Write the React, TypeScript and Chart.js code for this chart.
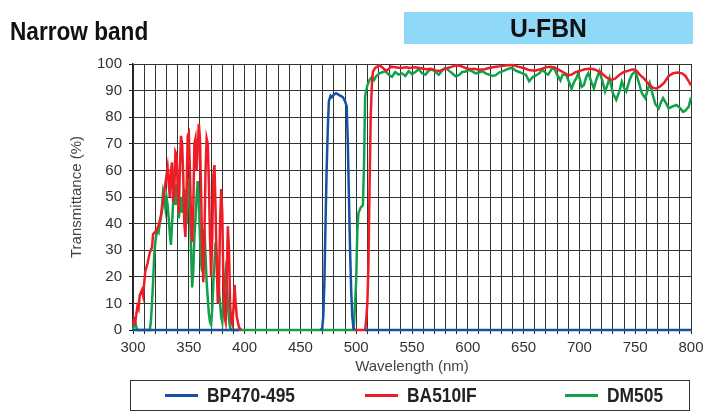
import React, { useEffect, useRef } from 'react';
import { Chart, registerables } from 'chart.js';
Chart.register(...registerables);

// ---- data ----
const xTicksStep = 10;
const yTicksStep = 10;

const bpLabel = 'BP470-495';
const baLabel = 'BA510IF';
const dmLabel = 'DM505';

const bpWl = [300, 395, 430, 468, 469.5, 470.5, 471.5, 472.5, 473.5, 474.5, 475.5, 477, 478, 480, 482, 484, 486, 488, 490, 491.5, 492.5, 493.5, 494.5, 495.5, 496.5, 497.5, 498.5, 503, 508, 800];
const bpT = [0, 0, null, 0, 0.5, 5, 18, 40, 60, 75, 86, 88, 87.5, 88.5, 89, 88.5, 88, 87.5, 86, 84, 70, 50, 30, 15, 5, 1, 0, null, 0, 0];

const baWl = [300, 301, 302, 304, 305, 306, 308, 309, 311, 313, 315, 317, 318, 320, 322, 324, 326, 328, 330, 331, 332, 333, 334, 335, 336, 337, 338, 339, 340, 341, 342, 343, 344, 345, 346, 347, 348, 349, 350, 351, 352, 353, 354, 355, 356, 357, 358, 359, 360, 361, 362, 363, 364, 365, 366, 367, 368, 369, 370, 371, 372, 373, 374, 375, 376, 377, 378, 379, 380, 381, 382, 383, 384, 385, 386, 387, 388, 389, 390, 391, 392, 393, 394, 395, 397, 450, 498, 508, 509, 510, 511, 512, 513, 514, 515, 517, 519, 521, 524, 527, 529, 531, 535, 540, 545, 548, 553, 558, 563, 567, 571, 575, 578, 582, 586, 590, 594, 598, 602, 606, 610, 615, 620, 625, 630, 635, 640, 645, 650, 655, 660, 665, 670, 674, 678, 682, 686, 690, 693, 697, 701, 705, 709, 713, 716, 720, 724, 728, 732, 736, 740, 744, 748, 751, 754, 758, 762, 766, 769, 772, 776, 780, 784, 788, 792, 795, 798, 800];
const baT = [2, 4, 3, 9, 8, 13, 15, 13, 22, 25, 29, 31, 36, 37, 38, 41, 45, 52, 58, 61, 55, 50, 60, 63, 48, 52, 67, 66, 54, 44, 60, 73, 70, 58, 40, 35, 52, 73, 74, 60, 42, 33, 45, 70, 72, 60, 68, 77.5, 72, 52, 30, 18, 35, 60, 72, 70, 55, 35, 20, 35, 58, 62, 45, 25, 10, 15, 40, 53, 44, 18, 5, 3, 20, 39, 30, 10, 3, 2, 8, 17, 10, 5, 3, 1, 0, null, 0, 0, 4, 10, 25, 55, 80, 92, 97, 98.5, 99, 99.5, 98.5, 97.5, 98, 99, 98.8, 98.5, 98.8, 98.5, 98.8, 98.4, 98, 98.2, 97.6, 97.4, 98, 98.5, 99, 99.5, 99.2, 98.5, 98, 98.2, 97.8, 98, 98.6, 99, 99.2, 99.5, 99.6, 99, 98.5, 97.7, 97.5, 98, 98.8, 99, 98.6, 97.7, 96.8, 95.8, 96, 97, 97.5, 98, 98.2, 98, 97.5, 96.5, 95, 94, 94.5, 96, 97, 97.5, 98, 97.5, 96, 94.5, 92.5, 91, 90.8, 91.5, 93, 95.5, 96.5, 96.8, 96.5, 95.5, 93.5, 92];

const dmWl = [300, 301, 302, 303, 304, 315, 316, 317, 318, 319, 320, 321, 322, 323, 324, 325, 326, 327, 328, 329, 330, 331, 332, 333, 334, 335, 336, 337, 338, 339, 340, 341, 342, 343, 344, 345, 346, 347, 348, 349, 350, 351, 352, 353, 354, 355, 356, 357, 358, 359, 360, 361, 362, 363, 364, 365, 366, 367, 368, 369, 370, 371, 372, 373, 374, 375, 376, 377, 378, 379, 380, 381, 382, 383, 384, 385, 386, 387, 388, 497, 498, 499, 500, 501, 502, 504, 506, 507, 508, 510, 512, 514, 516, 518, 521, 524, 526, 529, 532, 535, 538, 541, 544, 547, 550, 553, 556, 559, 562, 565, 568, 571, 574, 577, 580, 583, 586, 589, 592, 595, 598, 601, 604, 607, 610, 613, 616, 619, 622, 625, 628, 631, 634, 637, 640, 643, 646, 649, 652, 655, 658, 661, 664, 667, 670, 672, 675, 677, 680, 683, 685, 688, 690, 693, 695, 697, 699, 702, 704, 706, 708, 711, 713, 715, 718, 721, 723, 725, 727, 730, 733, 736, 738, 740, 742, 745, 747, 750, 753, 756, 759, 761, 763, 766, 768, 771, 773, 775, 778, 780, 783, 787, 790, 793, 795, 798, 800];
const dmT = [0, 2, 3, 1, 0, 0, 3, 10, 18, 28, 33, 36, 38, 37, 40, 42, 47, 52, 50, 46, 50, 47, 42, 36, 32, 40, 48, 52, 47, 55, 50, 42, 46, 50, 44, 50, 53, 45, 40, 52, 57, 45, 30, 16, 22, 35, 42, 50, 56, 48, 35, 25, 22, 30, 38, 28, 18, 12, 6, 3, 2, 8, 18, 25, 33, 28, 22, 15, 10, 5, 3, 10, 18, 22, 18, 10, 4, 1, 0, 0, 2, 10, 19, 37, 44, 46, 47, 62, 88, 92, 94, 95, 94, 95.5, 96.5, 97, 97.3, 96, 95.2, 97, 96, 96.5, 95.5, 97.3, 96.2, 97, 98, 96.5, 96, 97.5, 98, 97, 96, 97.5, 98.6, 97.5, 96.5, 95.4, 95.8, 97, 97.2, 97.8, 97.2, 96.5, 96.8, 97.3, 96.5, 96, 95.5, 95.8, 96.8, 97.2, 97.8, 98.3, 98.5, 97.5, 97, 96.5, 96, 93.5, 95, 95.7, 96.5, 97.8, 96.5, 96, 98, 98.7, 96, 93.8, 96, 96, 94, 90.7, 93, 94.5, 96.5, 91.4, 92, 95, 96.6, 93, 90.8, 94, 97.3, 93, 89.7, 92, 94.7, 89, 86.5, 90, 93.4, 91, 89.7, 94, 96, 97.3, 93.4, 89, 87.2, 90, 92.8, 88, 85, 83.3, 85.5, 87.2, 85, 83.3, 84, 84.6, 83.5, 82, 82.5, 84, 87.5];

const toPoints = (wl: number[], t: (number | null)[]) => wl.map((x, i) => ({ x, y: t[i] }));

const BLUE = '#1652a3';
const RED = '#ee1c25';
const GREEN = '#12a04a';
const NARROW = '"Liberation Sans", Arial, sans-serif';
const TICKFONT = '"Liberation Sans", Arial, sans-serif';

export default function App() {
  const ref = useRef<HTMLCanvasElement>(null);
  useEffect(() => {
    if (!ref.current) return;
    const chart = new Chart(ref.current, {
      type: 'line',
      data: {
        datasets: [
          { label: bpLabel, data: toPoints(bpWl, bpT), borderColor: BLUE, borderWidth: 2.5, pointRadius: 0, spanGaps: false, clip: 4 },
          { label: baLabel, data: toPoints(baWl, baT), borderColor: RED, borderWidth: 2.5, pointRadius: 0, spanGaps: false, clip: 4 },
          { label: dmLabel, data: toPoints(dmWl, dmT), borderColor: GREEN, borderWidth: 2.5, pointRadius: 0, clip: 4 },
        ] as any,
      },
      options: {
        animation: false,
        responsive: false,
        devicePixelRatio: 1,
        layout: { padding: { left: 68, top: 64, right: 24, bottom: 37 } },
        plugins: { legend: { display: false }, tooltip: { enabled: false } },
        scales: {
          x: {
            type: 'linear',
            min: 300,
            max: 800,
            afterFit: (s: any) => { s.height = 46; },
            ticks: {
              stepSize: xTicksStep,
              autoSkip: false,
              maxRotation: 0,
              padding: 5,
              color: '#333',
              font: { family: TICKFONT, size: 15 },
              callback: (v: any) => (Number(v) % 50 === 0 ? String(v) : ''),
            },
            grid: { color: '#333', lineWidth: 1, tickLength: 4, tickColor: '#222' },
            border: { color: '#222', width: 1.5 },
            title: { display: true, text: 'Wavelength (nm)', color: '#444', font: { family: TICKFONT, size: 15 }, padding: 0 },
          },
          y: {
            min: 0,
            max: 100,
            afterFit: (s: any) => { s.width = 65; },
            ticks: { stepSize: yTicksStep, padding: 7, color: '#333', font: { family: TICKFONT, size: 15 } },
            grid: { color: '#333', lineWidth: 1, tickLength: 4, tickColor: '#222' },
            border: { color: '#222', width: 1.5 },
            title: { display: true, text: 'Transmittance (%)', color: '#444', font: { family: TICKFONT, size: 15 }, padding: 0 },
          },
        },
      } as any,
    });
    return () => chart.destroy();
  }, []);

  const legendItem = (left: number, color: string, text: string) => (
    <div style={{ position: 'absolute', left, top: 0, height: 29, display: 'flex', alignItems: 'center' }}>
      <div style={{ width: 33, height: 3, background: color, marginRight: 9 }} />
      <span style={{ font: `bold 20px ${NARROW}`, color: '#222', display: 'inline-block', transform: 'scaleX(0.87)', transformOrigin: 'left center', whiteSpace: 'nowrap' }}>{text}</span>
    </div>
  );

  return (
    <div style={{ position: 'fixed', left: 0, top: 0, width: 715, height: 413, background: '#fff', overflow: 'hidden' }}>
      <canvas ref={ref} width={715} height={413} style={{ position: 'absolute', left: 0, top: 0, width: 715, height: 413 }} />
      <div style={{ position: 'absolute', left: 10, top: 16, font: `bold 26px ${NARROW}`, color: '#111', lineHeight: '30px', whiteSpace: 'nowrap', transform: 'scaleX(0.87)', transformOrigin: 'left center' }}>Narrow band</div>
      <div style={{ position: 'absolute', left: 404, top: 12, width: 289, height: 32, background: '#8fd8f8', display: 'flex', alignItems: 'center', justifyContent: 'center', color: '#111' }}>
        <span style={{ font: `bold 26px ${NARROW}`, display: 'inline-block', transform: 'scaleX(0.95)' }}>U-FBN</span>
      </div>
      <div style={{ position: 'absolute', left: 130, top: 380, width: 558, height: 29, border: '1px solid #333' }}>
        {legendItem(34, BLUE, bpLabel)}
        {legendItem(234, RED, baLabel)}
        {legendItem(434, GREEN, dmLabel)}
      </div>
    </div>
  );
}
